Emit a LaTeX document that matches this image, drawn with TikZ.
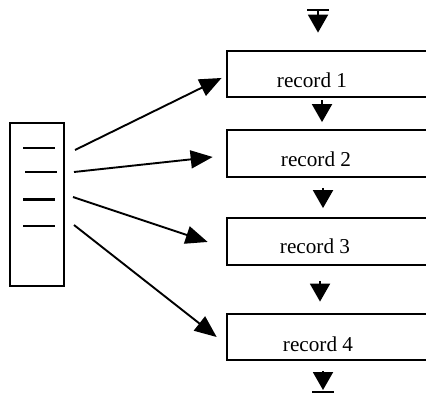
\documentclass[tikz,border=0pt]{standalone}
\usepackage{fontspec}
\setmainfont{Liberation Serif}
\usetikzlibrary{arrows.meta}

\tikzset{
  recbox/.style={rectangle, minimum width=99.5pt, minimum height=23pt, inner sep=0pt},
  rectext/.style={font=\fontsize{10.6}{12}\selectfont, inner sep=0pt},
  listbox/.style={rectangle, draw, line width=1pt, minimum width=27pt, minimum height=81.5pt, inner sep=0pt},
  fan/.style={line width=0.95pt, -{Triangle[length=11pt, width=9pt]}},
  down/.style={line width=1pt, -{Triangle[length=9pt, width=10pt]}},
  edge/.style={line width=1pt},
  mark line/.style={line width=1pt},
}

\begin{document}
\begin{tikzpicture}[x=0.5pt, y=-0.5pt]
  \useasboundingbox (0,0) rectangle (426,400);

  % record boxes, open on the right
  \node[recbox] (r1) at (326.5,74)  {};
  \node[recbox] (r2) at (326.5,153.5) {};
  \node[recbox] (r3) at (326.5,241.5) {};
  \node[recbox] (r4) at (326.5,337) {};
  \foreach \r in {r1,r2,r3,r4}
    \draw[edge] (\r.north east) -- (\r.north west) -- (\r.south west) -- (\r.south east);

  \node[rectext] (t1) at (312,80)  {record 1};
  \node[rectext] (t2) at (316,159) {record 2};
  \node[rectext] (t3) at (315,246) {record 3};
  \node[rectext] (t4) at (318,344) {record 4};

  % index block with its entries
  \node[listbox] (lst) at (37,204.5) {};
  \draw[mark line] (23,148) -- (55,148);
  \draw[mark line] (25,172) -- (57,172);
  \draw[line width=1.5pt] (23,199) -- (55,199);
  \draw[mark line] (23,226) -- (55,226);

  % pointers from the index to the records
  \coordinate (s1) at (75,150);
  \coordinate (s2) at (74,172);
  \coordinate (s3) at (73,197);
  \coordinate (s4) at (74,225);
  \draw[fan, shorten >=2.8pt] (s1) -- ([yshift=-0.75pt]r1.west);
  \draw[fan, shorten >=7pt]   (s2) -- ([yshift=-1pt]r2.west);
  \draw[fan, shorten >=10pt]  (s3) -- ([yshift=-3.4pt]r3.west);
  \draw[fan, shorten >=6.3pt] (s4) -- ([yshift=-3.9pt]r4.west);

  % chain links between records
  \coordinate (topin) at (318,10);
  \draw[edge] ([xshift=-5.5pt]topin) -- ([xshift=5.5pt]topin);
  \draw[down, shorten >=9pt] (topin) -- (topin |- r1.north);

  \draw[down, shorten <=1.5pt, shorten >=4pt] ([xshift=-2.25pt]r1.south) -- ([xshift=-2.25pt]r2.north);
  \draw[down, shorten <=5.5pt, shorten >=5pt] ([xshift=-1.75pt]r2.south) -- ([xshift=-1.75pt]r3.north);
  \draw[down, shorten <=8pt, shorten >=6pt]   ([xshift=-3.25pt]r3.south) -- ([xshift=-3.25pt]r4.north);

  \coordinate (botout) at (323,392);
  \draw[down, shorten <=5.5pt, shorten >=1pt] ([xshift=-1.75pt]r4.south) -- (botout);
  \draw[edge] ([xshift=-5.5pt]botout) -- ([xshift=5.5pt]botout);
\end{tikzpicture}
\end{document}
